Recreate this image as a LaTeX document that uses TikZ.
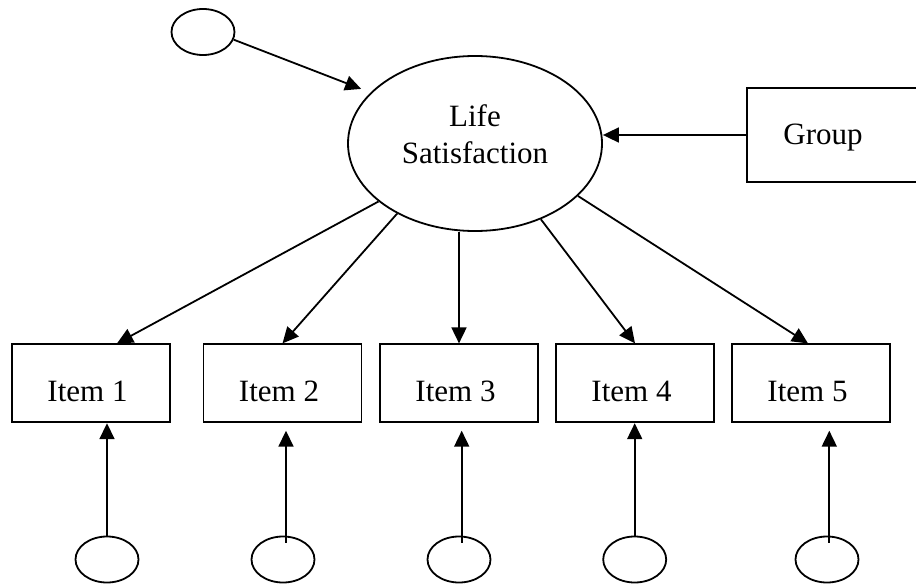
\documentclass[tikz,border=0pt]{standalone}
\usepackage{fontspec}
\setmainfont{Liberation Serif}
\usetikzlibrary{arrows.meta,shapes.geometric,calc}
\tikzset{
 lw/.style={line width=1.8pt},
 latent/.style={draw, ellipse, lw, inner sep=0pt},
 errv/.style={latent, minimum width=63pt, minimum height=46pt},
 obs/.style={draw, rectangle, lw, inner sep=0pt, minimum width=158pt, minimum height=78pt,
   font=\fontsize{31}{37}\selectfont, text height=37pt, text depth=0pt},
 txt/.style={font=\fontsize{31}{37}\selectfont, inner sep=0pt},
 arr/.style={lw, -{Triangle[length=16pt,width=15pt]}},
}
\begin{document}
\begin{tikzpicture}[x=1pt,y=-1pt]
\useasboundingbox (0,0) rectangle (916,588);
% latent factor
\node[latent, minimum width=254pt, minimum height=175pt] (ls) at (475,143.5) {};
\node[txt, anchor=base] (lsA) at (475,127) {Life};
\node[txt, anchor=base] (lsB) at (475,164) {Satisfaction};
% disturbance
\node[errv] (e0) at (203,32) {};
% group box
\node[draw, rectangle, lw, inner sep=0pt, minimum width=188pt, minimum height=93.4pt,
  font=\fontsize{31}{37}\selectfont, text height=20pt, text depth=0pt] (grp) at (841,135) {Group\hspace{36pt}\null};
% items
\node[obs] (i1) at (91,383.3) {Item 1\hspace{7pt}\null};
\node[obs] (i2) at (282.5,383.3) {Item 2\hspace{7pt}\null};
\node[obs] (i3) at (459,383.3) {Item 3\hspace{7pt}\null};
\node[obs] (i4) at (635,383.3) {Item 4\hspace{7pt}\null};
\node[obs] (i5) at (811,383.3) {Item 5\hspace{7pt}\null};
% error terms
\node[errv] (e1) at (107,559.5) {};
\node[errv] (e2) at (283,559.5) {};
\node[errv] (e3) at (459,559.5) {};
\node[errv] (e4) at (634.7,559.5) {};
\node[errv] (e5) at (827,559.5) {};
% connectors
\draw[arr, shorten >=10pt] (e0.-14) -- (ls.154);
\draw[arr] (grp.west) -- (grp.west -| ls.east);
\draw[arr] (ls.211) -- ([xshift=26pt]i1.north);
\draw[arr] (ls.222) -- (i2.north);
\draw[arr] (i3.north |- ls.south) -- (i3.north);
\draw[arr] (ls.311) -- (i4.north);
\draw[arr] (ls.333) -- ([xshift=-3pt]i5.north);
\draw[arr] (e1.north) -- (e1.north |- i1.south);
\draw[arr] (e4.north) -- (e4.north |- i4.south);
\coordinate (s2) at ($(e2.north)+(3,7)$);
\coordinate (s3) at ($(e3.north)+(2.7,7)$);
\coordinate (s5) at ($(e5.north)+(2.3,7)$);
\draw[arr] (s2) -- ($(s2 |- i2.south)+(0,7.5)$);
\draw[arr] (s3) -- ($(s3 |- i3.south)+(0,7.5)$);
\draw[arr] (s5) -- ($(s5 |- i5.south)+(0,7.5)$);
\end{tikzpicture}
\end{document}
